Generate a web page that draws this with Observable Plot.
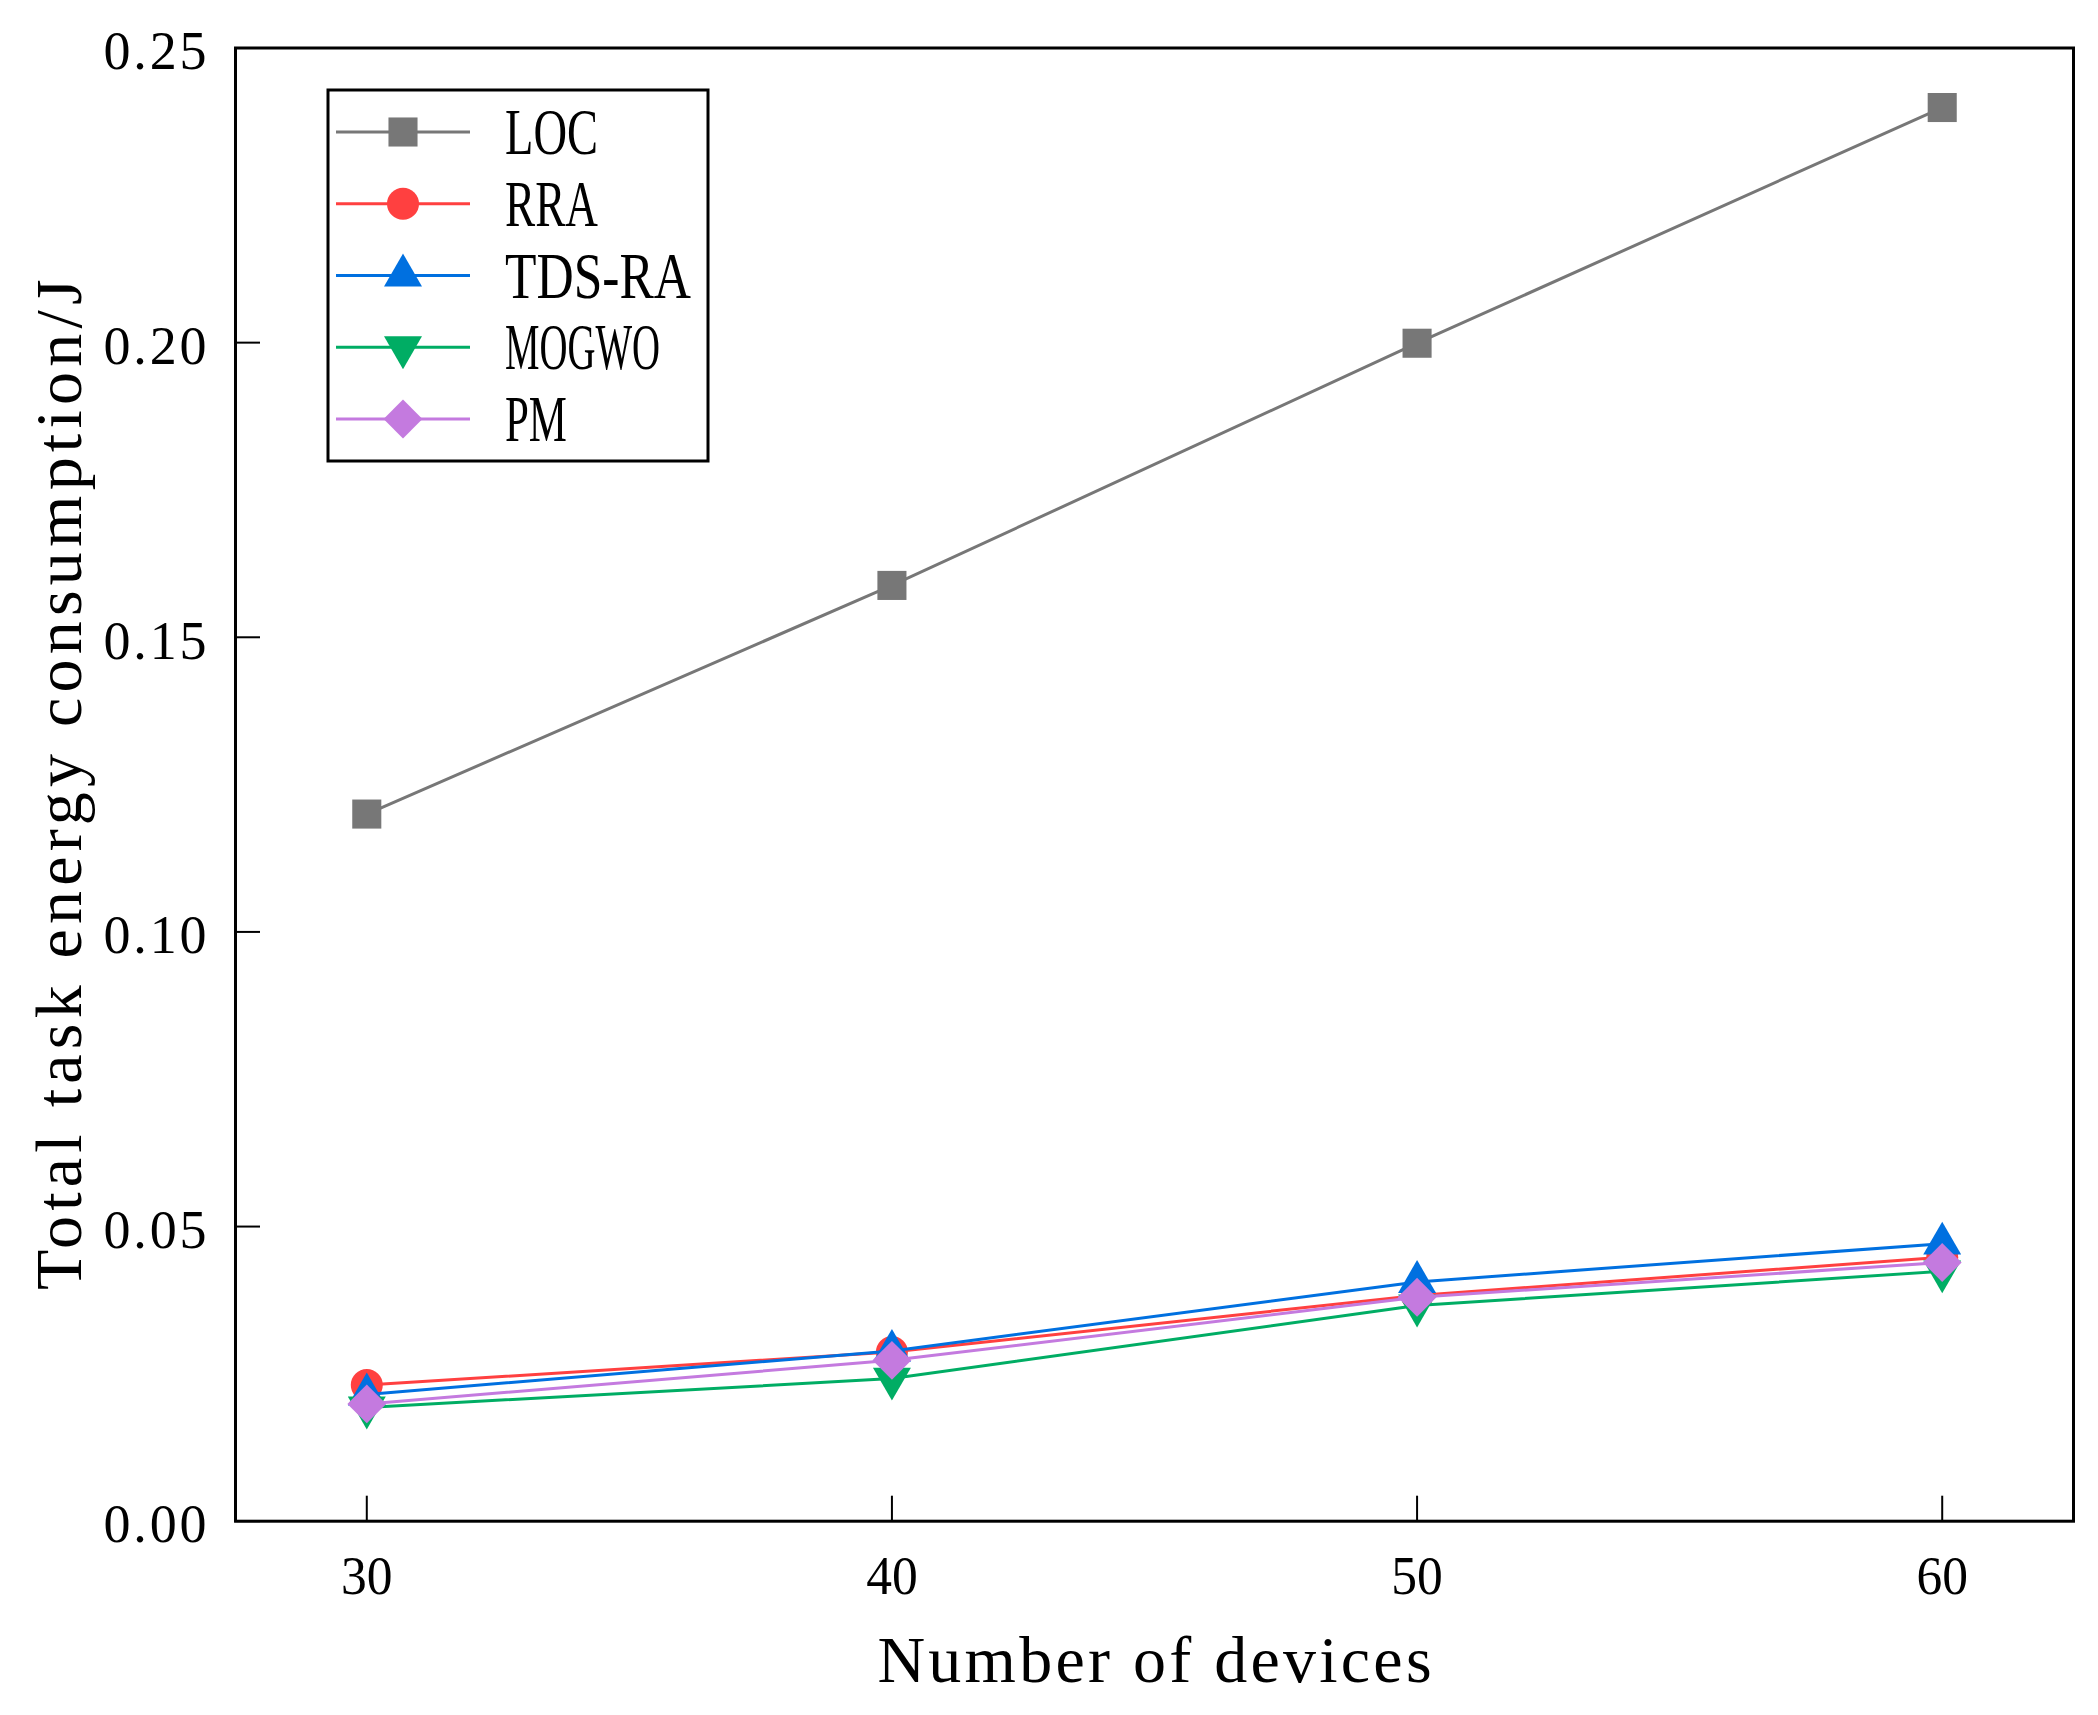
<!DOCTYPE html>
<html>
<head>
<meta charset="utf-8">
<script src="https://cdn.jsdelivr.net/npm/d3@7"></script>
<script src="https://cdn.jsdelivr.net/npm/@observablehq/plot@0.6"></script>
<style>
html, body { margin: 0; padding: 0; background: #fff; }
#chart { position: relative; width: 2098px; height: 1715px; }
#legend { position: absolute; left: 0; top: 0; pointer-events: none; }
</style>
</head>
<body>
<div id="chart"></div>
<script>
// ---- data ----
const devices = [30, 40, 50, 60];
const LOC    = [0.1200, 0.1588, 0.1999, 0.2399];
const RRA    = [0.0231, 0.0287, 0.0383, 0.0448];
const TDS_RA = [0.0215, 0.0289, 0.0406, 0.0471];
const MOGWO  = [0.0193, 0.0242, 0.0366, 0.0424];
const PM     = [0.0199, 0.0273, 0.0380, 0.0439];
const seriesNames = ["LOC", "RRA", "TDS-RA", "MOGWO", "PM"];
const seriesColors = ["#777777", "#FF4040", "#0070E0", "#00AD64", "#C47ADF"];
const xTicks = [30, 40, 50, 60];
const yTicks = [0, 0.05, 0.10, 0.15, 0.20, 0.25];
const xLabel = "Number of devices";
const yLabel = "Total task energy consumption/J";

// ---- styling ----
const W = 2098, H = 1715;
const mL = 235, mR = 25, mT = 47.5, mB = 194.3;
const frameW = W - mL - mR, frameH = H - mT - mB;
const tickLen = 25;
const FONT = "'Liberation Serif', 'DejaVu Serif', serif";

const downTriangle = {
  draw(ctx, size) {
    const y = -Math.sqrt(size / (Math.sqrt(3) * 3));
    ctx.moveTo(0, -y * 2);
    ctx.lineTo(-Math.sqrt(3) * y, y);
    ctx.lineTo(Math.sqrt(3) * y, y);
    ctx.closePath();
  }
};
const plotSymbols = ["square", "circle", "triangle", downTriangle, "diamond2"];
const d3Symbols = [d3.symbolSquare, d3.symbolCircle, d3.symbolTriangle, downTriangle, d3.symbolDiamond2];
const radii = [16.4, 16, 14.1, 14.1, 17.5];

const valuesBySeries = [LOC, RRA, TDS_RA, MOGWO, PM];
const tables = seriesNames.map((name, i) =>
  devices.map((d, j) => ({series: name, devices: d, energy: valuesBySeries[i][j]}))
);

const marks = [];
tables.forEach((data, i) => {
  marks.push(Plot.line(data, {x: "devices", y: "energy", stroke: seriesColors[i], strokeWidth: 3}));
  marks.push(Plot.dot(data, {x: "devices", y: "energy", symbol: plotSymbols[i], r: radii[i], fill: seriesColors[i], stroke: "none"}));
});

const chart = Plot.plot({
  width: W,
  height: H,
  marginLeft: mL,
  marginRight: mR,
  marginTop: mT,
  marginBottom: mB,
  style: {fontFamily: FONT, color: "black", background: "white", overflow: "visible"},
  x: {domain: [27.5, 62.5]},
  y: {domain: [0, 0.25]},
  marks: [
    Plot.tickX(xTicks, {x: d => d, stroke: "black", strokeWidth: 2, insetTop: frameH - tickLen}),
    Plot.tickY(yTicks, {y: d => d, stroke: "black", strokeWidth: 2, insetRight: frameW - tickLen}),
    ...marks,
    Plot.axisX(xTicks, {tickSize: 0, tickPadding: 34, tickFormat: d => String(d),
      label: xLabel, labelAnchor: "center", labelArrow: "none", labelOffset: 161}),
    Plot.axisY(yTicks, {tickSize: 0, tickPadding: 29, dy: 4, tickFormat: d3.format(".2f"),
      label: yLabel, labelAnchor: "center", labelArrow: "none", labelOffset: 201}),
    Plot.frame({stroke: "black", strokeWidth: 3})
  ]
});

const container = document.getElementById("chart");
container.appendChild(chart);

// emulate the monospaced, narrow glyphs of the original font:
// every character takes a fixed advance (in px) for each text group
function fitMono(textEl, advance) {
  const n = textEl.textContent.length;
  const target = n * advance;
  const natural = textEl.getComputedTextLength();
  textEl.setAttribute("textLength", target);
  textEl.setAttribute("lengthAdjust", natural > target ? "spacingAndGlyphs" : "spacing");
}

chart.querySelectorAll('g[aria-label="x-axis tick label"], g[aria-label="y-axis tick label"]')
  .forEach(g => {
    g.setAttribute("font-size", 54);
    g.querySelectorAll("text").forEach(t => fitMono(t, 25.75));
  });
chart.querySelectorAll('g[aria-label="x-axis label"], g[aria-label="y-axis label"]')
  .forEach(g => {
    g.setAttribute("font-size", 66);
    g.querySelectorAll("text").forEach(t => fitMono(t, 32.6));
  });

// ---- legend (inside the plot frame, top-left) ----
const leg = d3.select(container).append("svg")
  .attr("id", "legend").attr("width", W).attr("height", H)
  .attr("font-family", FONT);
leg.append("rect")
  .attr("x", 328).attr("y", 90).attr("width", 380).attr("height", 371)
  .attr("fill", "white").attr("stroke", "black").attr("stroke-width", 3);
seriesNames.forEach((name, i) => {
  const cy = 132 + i * 71.75;
  leg.append("line")
    .attr("x1", 336).attr("x2", 470).attr("y1", cy).attr("y2", cy)
    .attr("stroke", seriesColors[i]).attr("stroke-width", 3);
  leg.append("path")
    .attr("transform", `translate(403,${cy})`)
    .attr("d", d3.symbol(d3Symbols[i], Math.PI * radii[i] * radii[i])())
    .attr("fill", seriesColors[i]);
  const t = leg.append("text")
    .attr("x", 505).attr("y", cy + 22)
    .attr("font-size", 66.5)
    .attr("fill", "black")
    .text(name);
  fitMono(t.node(), 31);
});
</script>
</body>
</html>
